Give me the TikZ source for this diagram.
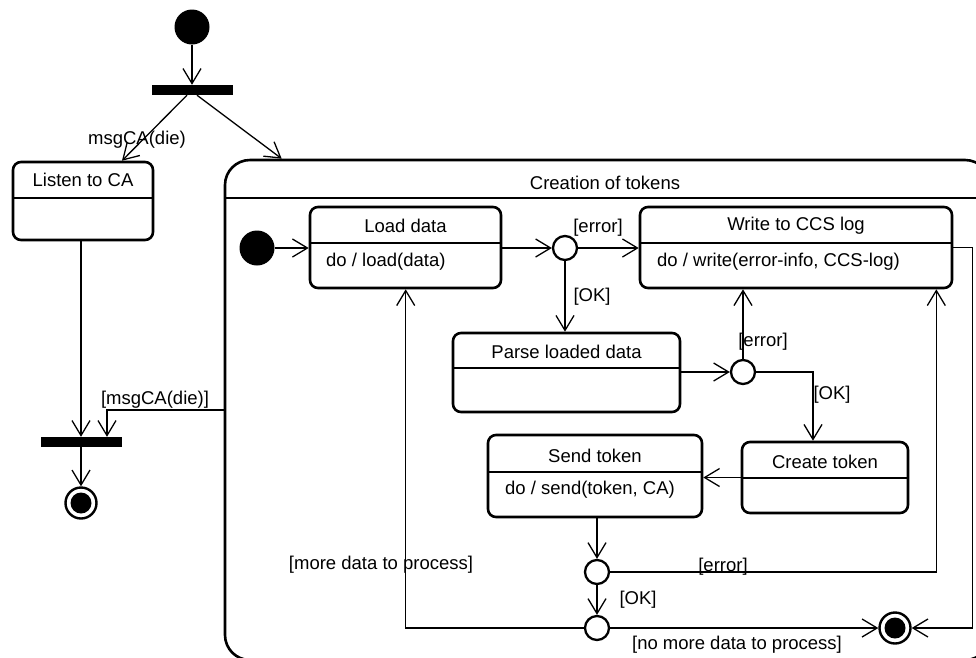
\documentclass[tikz,border=0pt]{standalone}
\usepackage{fontspec}
\setmainfont{Liberation Sans}
\usetikzlibrary{arrows.meta,calc}

% state box: name, x1, y1, x2, y2, y of the compartment line
\newcommand\umlstate[6]{%
  \node[stbox, minimum width={(#4)-(#2)}, minimum height={(#5)-(#3)}]
    (#1) at ({(#2+#4)/2},{(#3+#5)/2}) {};
  \draw[sepline] (#2,#6) -- (#4,#6);}

% final state: ring with a filled core
\newcommand\umlfinal[2]{%
  \node[endring] (#1) at (#2) {};
  \fill (#1.center) circle (10.5pt);}

\begin{document}
\begin{tikzpicture}[x=1pt,y=-1pt,
  every node/.style={font=\fontsize{18.5}{21}\selectfont, inner sep=0pt},
  stbox/.style={draw, rectangle, line width=2.6pt, rounded corners=8pt},
  sepline/.style={line width=1.6pt},
  tr/.style={line width=1.3pt, -{Straight Barb[length=15pt,width=18pt]}},
  choice/.style={circle, draw, line width=2.3pt, minimum size=24pt, fill=white},
  startdot/.style={circle, fill=black, minimum size=35pt},
  syncbar/.style={rectangle, fill=black, minimum width=81pt, minimum height=10pt},
  endring/.style={circle, draw, line width=2.4pt, minimum size=31pt, fill=white},
  lbl/.style={anchor=center}]
\useasboundingbox (0,0) rectangle (976,657);

% outer level
\node[startdot] (init) at (192,27) {};
\node[syncbar] (fork) at (192,90) {};
\node[syncbar] (join) at (81,442) {};
\umlfinal{fin}{81,503}

\umlstate{listen}{13}{162}{153}{240}{198}
\node (listen-t) at (83,180) {Listen to CA};

% composite state
\node[stbox, rounded corners=25pt, minimum width=765, minimum height=500]
  (comp) at (607.5,410) {};
\draw[sepline] (225,198) -- (990,198);
\node (comp-t) at (605,183) {Creation of tokens};

% inner states
\umlstate{load}{310}{207}{501}{288}{243}
\node (load-t) at (405.5,226) {Load data};
\node[anchor=west] (load-b) at (326,262) {do / load(data)};

\umlstate{write}{640}{207}{952}{288}{243}
\node (write-t) at (796,226) {Write to CCS log};
\node[anchor=west] (write-b) at (657,262) {do / write(error-info, CCS-log)};

\umlstate{parse}{453}{333}{680}{412}{368}
\node (parse-t) at (566.5,352) {Parse loaded data};

\umlstate{create}{742}{442}{908}{513}{478}
\node (create-t) at (825,462) {Create token};

\umlstate{send}{488}{435}{702}{517}{472}
\node (send-t) at (595,456) {Send token};
\node[anchor=west] (send-b) at (505,490) {do / send(token, CA)};

\node[startdot] (i0) at (257,248) {};
\node[choice] (d1) at (565,248) {};
\node[choice] (d2) at (743,372) {};
\node[choice] (d3) at (597,572) {};
\node[choice] (d4) at (597,628) {};
\umlfinal{ifin}{895,628}

% outer transitions
\draw[tr] (init) -- (init |- fork.north);
\draw[tr] ($(fork.south)+(-5,0)$) -- ($(listen.north)+(39,0)$);
\draw[tr] ($(fork.south)+(5,0)$) -- ($(comp.north west)+(58,0)$);
\node[lbl] (l-msg) at (137,140) {msgCA(die)};
\draw[tr] (listen.south -| join) -- (join.north);
\draw[tr] (comp.west) -| ($(join.north)+(26,0)$);
\node[lbl] (l-msg2) at (155,400) {[msgCA(die)]};
\draw[tr] (join.south) -- (fin.north);

% inner transitions
\draw[tr] (i0) -- (i0 -| load.west);
\draw[tr] (load.east |- d1) -- (d1);
\draw[tr] (d1) -- (d1 -| write.west);
\node[lbl] (l-e1) at (598,228) {[error]};
\draw[tr] (d1) -- (d1 |- parse.north);
\node[lbl] (l-ok1) at (592,297) {[OK]};
\draw[tr] (parse.east |- d2) -- (d2);
\draw[tr] (d2) -- (d2 |- write.south);
\node[lbl] (l-e2) at (763,342) {[error]};
\draw[tr] (d2) -| ($(create.north)+(-12,0)$);
\node[lbl] (l-ok2) at (832,395) {[OK]};
\draw[tr] (create.west) -- (create.west -| send.east);
\draw[tr] (send.south -| d3) -- (d3);
\draw[tr] (d3) -| ($(write.south east)+(-17,0)$);
\node[lbl] (l-e3) at (723,567) {[error]};
\draw[tr] (d3) -- (d4);
\node[lbl] (l-ok3) at (638,600) {[OK]};
\draw[tr] (d4) -| ($(load.south west)+(97,0)$);
\node[lbl] (l-more) at (381,565) {[more data to process]};
\draw[tr] (d4) -- (ifin);
\node[lbl] (l-nomore) at (737,645) {[no more data to process]};
\draw[tr] (write.east) -- ++(19,0) |- (ifin);
\end{tikzpicture}
\end{document}
